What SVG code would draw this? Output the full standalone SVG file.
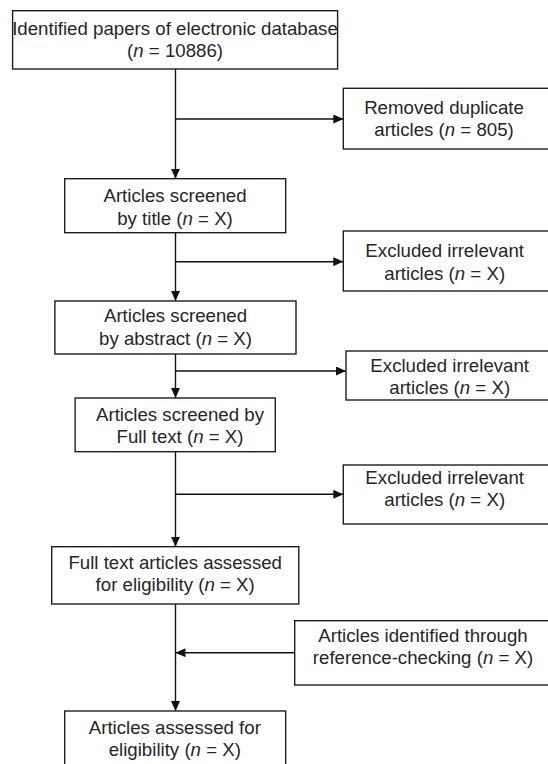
<svg xmlns="http://www.w3.org/2000/svg" width="548" height="764" viewBox="0 0 548 764">
<style>
.box{fill:#fff;stroke:#1e1e1e;stroke-width:1.4}
.t{font-family:"Liberation Sans",Arial,sans-serif;font-size:18.67px;fill:#262626;text-anchor:middle}
.i{font-style:italic}
.c{fill:none;stroke:#111;stroke-width:1.4}
</style>
<defs>
<marker id="ah" markerUnits="userSpaceOnUse" markerWidth="10" markerHeight="9" refX="10" refY="4.5" orient="auto">
<path d="M0,0 L10,4.5 L0,9 z" fill="#111"/>
</marker>
</defs>
<rect width="548" height="764" fill="#fff"/>
<g id="connectors">
<line class="c" x1="175.5" y1="69" x2="175.5" y2="178.7" marker-end="url(#ah)"/>
<line class="c" x1="175.5" y1="119" x2="343.3" y2="119" marker-end="url(#ah)"/>
<line class="c" x1="175.5" y1="232.7" x2="175.5" y2="301" marker-end="url(#ah)"/>
<line class="c" x1="175.5" y1="261.7" x2="343.3" y2="261.7" marker-end="url(#ah)"/>
<line class="c" x1="175.5" y1="354" x2="175.5" y2="398" marker-end="url(#ah)"/>
<line class="c" x1="175.5" y1="371" x2="346" y2="371" marker-end="url(#ah)"/>
<line class="c" x1="175.5" y1="451.7" x2="175.5" y2="546.7" marker-end="url(#ah)"/>
<line class="c" x1="175.5" y1="494.3" x2="343.3" y2="494.3" marker-end="url(#ah)"/>
<line class="c" x1="175.5" y1="604" x2="175.5" y2="711" marker-end="url(#ah)"/>
<line class="c" x1="294.7" y1="652.7" x2="175.5" y2="652.7" marker-end="url(#ah)"/>
</g>
<g id="n1">
<rect class="box" x="12.6" y="10.7" width="325" height="58.3"/>
<text class="t" x="175" y="34.8">Identified papers of electronic database</text>
<text class="t" x="175" y="57.2">(<tspan class="i">n</tspan> = 10886)</text>
</g>
<g id="n2">
<rect class="box" x="343.3" y="88.3" width="210" height="60.7"/>
<text class="t" x="444" y="113.5">Removed duplicate</text>
<text class="t" x="444" y="136">articles (<tspan class="i">n</tspan> = 805)</text>
</g>
<g id="n3">
<rect class="box" x="64.7" y="178.7" width="221" height="54"/>
<text class="t" x="175" y="202.3">Articles screened</text>
<text class="t" x="175" y="224.5">by title (<tspan class="i">n</tspan> = X)</text>
</g>
<g id="n4">
<rect class="box" x="343.3" y="231" width="210" height="60"/>
<text class="t" x="444.7" y="257">Excluded irrelevant</text>
<text class="t" x="444.7" y="279.5">articles (<tspan class="i">n</tspan> = X)</text>
</g>
<g id="n5">
<rect class="box" x="54.9" y="301" width="241.1" height="53"/>
<text class="t" x="175.5" y="322">Articles screened</text>
<text class="t" x="175.5" y="344.5">by abstract (<tspan class="i">n</tspan> = X)</text>
</g>
<g id="n6">
<rect class="box" x="346" y="351" width="210" height="49"/>
<text class="t" x="449.7" y="371.7">Excluded irrelevant</text>
<text class="t" x="449.7" y="393.5">articles (<tspan class="i">n</tspan> = X)</text>
</g>
<g id="n7">
<rect class="box" x="75.1" y="398" width="200.2" height="53.7"/>
<text class="t" x="180" y="421">Articles screened by</text>
<text class="t" x="180" y="443.3">Full text (<tspan class="i">n</tspan> = X)</text>
</g>
<g id="n8">
<rect class="box" x="343.3" y="465" width="210" height="59"/>
<text class="t" x="444.7" y="483.5">Excluded irrelevant</text>
<text class="t" x="444.7" y="506">articles (<tspan class="i">n</tspan> = X)</text>
</g>
<g id="n9">
<rect class="box" x="51.7" y="546.7" width="247.1" height="57.3"/>
<text class="t" x="175.2" y="568.5">Full text articles assessed</text>
<text class="t" x="175.2" y="590.8">for eligibility (<tspan class="i">n</tspan> = X)</text>
</g>
<g id="n10">
<rect class="box" x="294.7" y="620.7" width="260" height="64.3"/>
<text class="t" x="423" y="641.7">Articles identified through</text>
<text class="t" x="423" y="664.2">reference-checking (<tspan class="i">n</tspan> = X)</text>
</g>
<g id="n11">
<rect class="box" x="64.7" y="711" width="221" height="56"/>
<text class="t" x="174.8" y="733.5">Articles assessed for</text>
<text class="t" x="174.8" y="756">eligibility (<tspan class="i">n</tspan> = X)</text>
</g>
</svg>
